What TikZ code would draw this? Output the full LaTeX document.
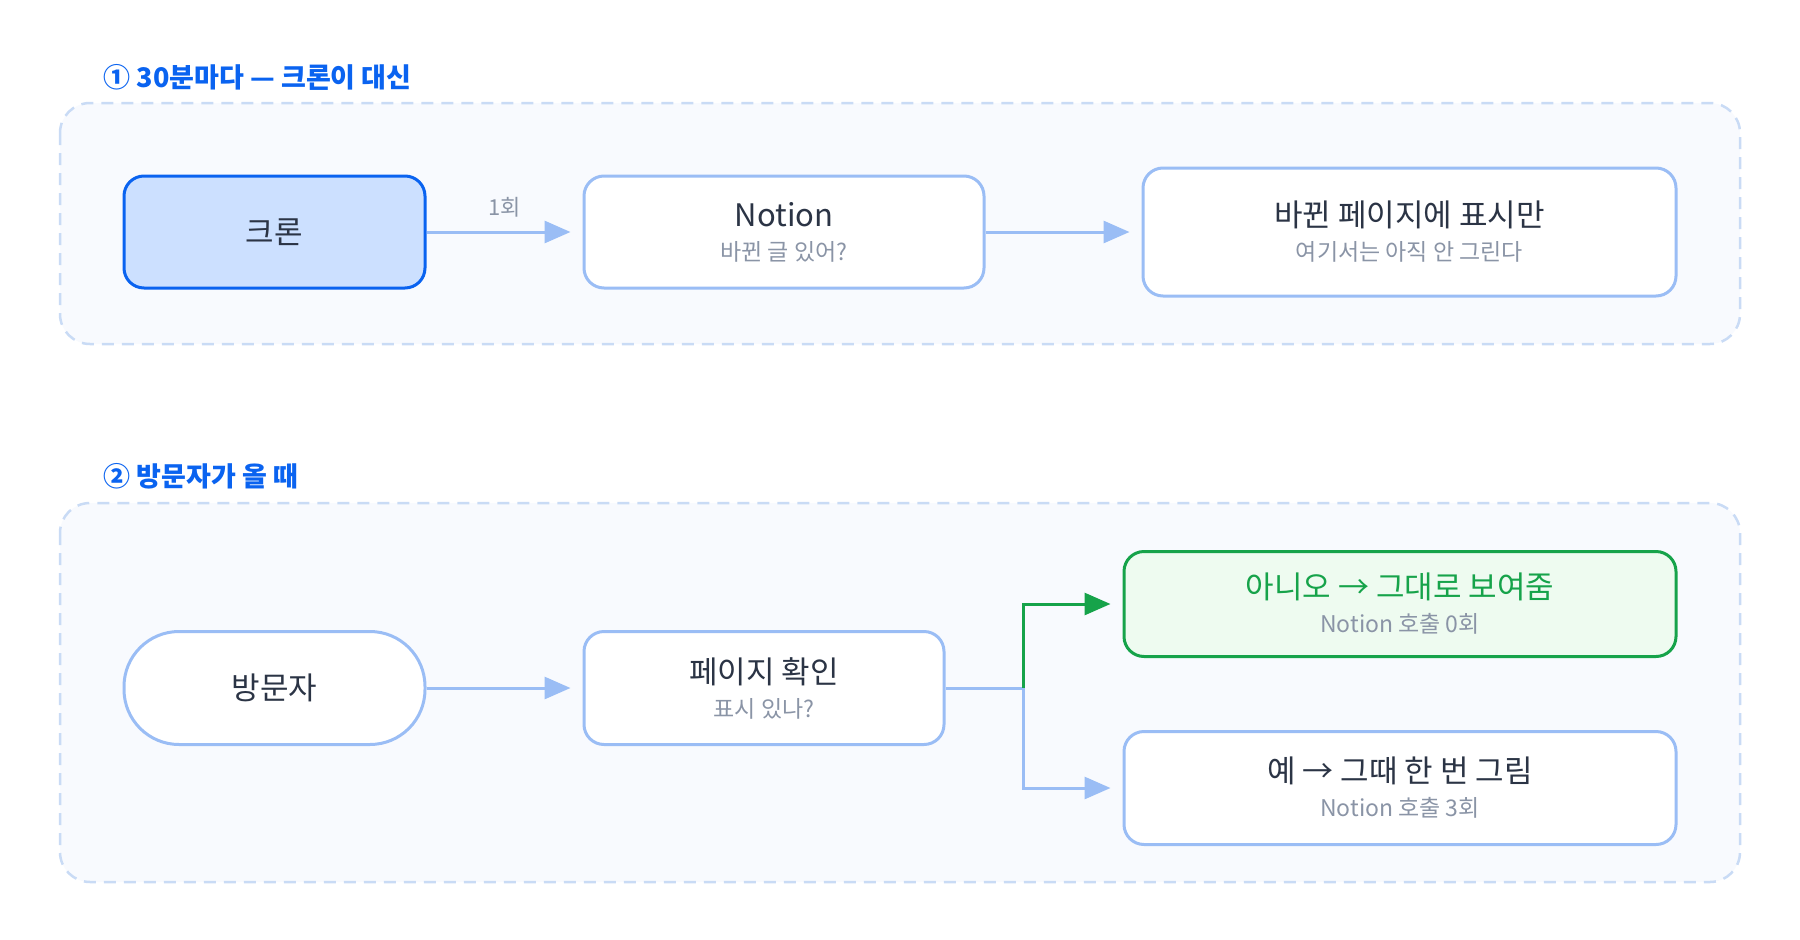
\documentclass[tikz,border=0pt]{standalone}
\usepackage{fontspec}
\setmainfont{Noto Sans CJK KR}
\usetikzlibrary{arrows.meta,positioning}
\definecolor{edgeblue}{HTML}{9ABDF5}
\definecolor{deepblue}{HTML}{0A63F0}
\definecolor{paleblue}{HTML}{CCE0FF}
\definecolor{panel}{HTML}{F8FAFE}
\definecolor{dashblue}{HTML}{C9DBF5}
\definecolor{okgreen}{HTML}{16A34A}
\definecolor{palegreen}{HTML}{EEFBF0}
\definecolor{ink}{HTML}{2B3445}
\definecolor{subgrey}{HTML}{8A94A6}
\tikzset{
  panel/.style={draw=dashblue, fill=panel, line width=2.5pt, dash pattern=on 12pt off 8pt, rounded corners=30pt},
  stage/.style={draw=edgeblue, fill=white, line width=3pt, rounded corners=20pt, align=center, text=ink, font=\fontsize{31}{38}\selectfont},
  title/.style={anchor=west, text=deepblue, font=\bfseries\fontsize{27}{32}\selectfont},
  flow/.style={draw=edgeblue, line width=3pt, -{Triangle[length=26pt,width=22pt]}, shorten >=12pt},
}
\newcommand{\sub}[1]{\\[-4pt]{\color{subgrey}\fontsize{23}{28}\selectfont #1}}
\begin{document}
\begin{tikzpicture}[x=1pt,y=-1pt]
  \useasboundingbox (0,0) rectangle (1800,940);
  % panel one
  \draw[panel] (60,103) rectangle (1740,344);
  \node[title] (t1) at (100,77) {① 30분마다 — 크론이 대신};
  \node[stage, draw=deepblue, fill=paleblue, minimum width=301pt, minimum height=112pt] (cron) at (274.5,232) {크론};
  \node[stage, minimum width=400pt, minimum height=112pt] (notion) at (784,232) {Notion\sub{바뀐 글 있어?}};
  \node[stage, minimum width=533pt, minimum height=128pt] (mark) at (1409.5,232) {바뀐 페이지에 표시만\sub{여기서는 아직 안 그린다}};
  \draw[flow] (cron) -- node[above=10pt, text=subgrey, font=\fontsize{22}{26}\selectfont] {1회} (notion);
  \draw[flow] (notion) -- (mark);
  % panel two
  \draw[panel] (60,503) rectangle (1740,882);
  \node[title] (t2) at (100,476) {② 방문자가 올 때};
  \node[stage, rounded corners=55pt, minimum width=301pt, minimum height=113pt] (visitor) at (274.5,688) {방문자};
  \node[stage, minimum width=360pt, minimum height=113pt] (check) at (764,688) {페이지 확인\sub{표시 있나?}};
  \node[stage, draw=okgreen, fill=palegreen, text=okgreen, minimum width=552pt, minimum height=105pt] (no) at (1400,604) {아니오 → 그대로 보여줌\sub{Notion 호출 0회}};
  \node[stage, minimum width=552pt, minimum height=113pt] (yes) at (1400,788) {예 → 그때 한 번 그림\sub{Notion 호출 3회}};
  \coordinate (fork) at (1023,688);
  \draw[flow] (visitor) -- (check);
  \draw[draw=edgeblue, line width=3pt] (check.east) -- (fork);
  \draw[flow, draw=okgreen] (fork) |- (no.west);
  \draw[flow] (fork) |- (yes.west);
\end{tikzpicture}
\end{document}
